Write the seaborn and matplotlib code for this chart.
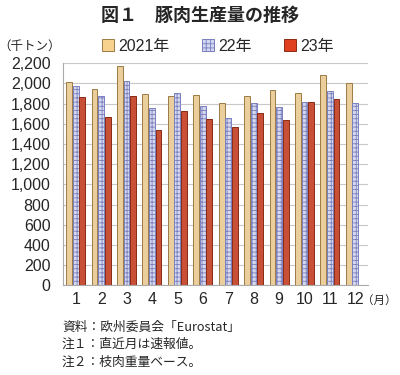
import matplotlib
matplotlib.use("Agg")
import matplotlib.pyplot as plt
import seaborn as sns
import pandas as pd
import numpy as np
from matplotlib.patches import Patch

months = [str(m) for m in range(1, 13)]
series_labels = ["2021年", "22年", "23年"]
v2021 = [2018, 1945, 2176, 1896, 1873, 1889, 1810, 1876, 1932, 1906, 2087, 2008]
v2022 = [1975, 1876, 2022, 1760, 1903, 1777, 1655, 1804, 1767, 1820, 1923, 1807]
v2023 = [1869, 1671, 1876, 1542, 1728, 1648, 1566, 1705, 1638, 1814, 1846, np.nan]
yticks = list(range(0, 2201, 200))

sns.set_theme(style="white")
plt.rcParams['font.family'] = ['Liberation Sans', 'Noto Sans CJK JP', 'DejaVu Sans']
plt.rcParams['hatch.linewidth'] = 0.6
CJK = ['Noto Sans CJK JP', 'DejaVu Sans']

rows = []
for lab, vals in zip(series_labels, [v2021, v2022, v2023]):
    for m, v in zip(months, vals):
        rows.append({"month": m, "series": lab, "value": v})
df = pd.DataFrame(rows)

face = ["#f7d28e", "#d2d6f0", "#e0401f"]
edge = ["#9c7a45", "#6b6fa8", "#8a2a14"]

fig = plt.figure(figsize=(4.0, 3.75), dpi=100)
ax = fig.add_axes([0.1575, 0.2387, 0.7625, 0.5925])
sns.barplot(data=df, x="month", y="value", hue="series", hue_order=series_labels,
            order=months, palette=face, width=0.78, gap=0.12, ax=ax, legend=False,
            linewidth=0.7)
for i, cont in enumerate(ax.containers):
    for p in cont.patches:
        p.set_edgecolor(edge[i])
        p.set_linewidth(0.7)
        if i == 1:
            p.set_hatch("++++")
            p.set_edgecolor("#7a7fc0")

ax.set_ylim(0, 2200)
ax.set_xlim(-0.5, 11.5)
ax.set_yticks(yticks)
ax.set_yticklabels([f"{t:,}" for t in yticks], fontsize=11.5)
ax.set_xticks(range(12))
ax.set_xticklabels(months, fontsize=11.5)
ax.set_xticks(np.arange(-0.5, 12, 1), minor=True)
ax.tick_params(axis="x", which="major", length=0, pad=5)
ax.tick_params(axis="x", which="minor", length=4, color="#999999", direction="out")
ax.tick_params(axis="y", length=0, pad=9)
ax.yaxis.grid(True, color="#c8c8c8", linewidth=0.8)
ax.set_axisbelow(True)
for s in ["top", "right"]:
    ax.spines[s].set_visible(False)
ax.spines["left"].set_color("#aaaaaa")
ax.spines["bottom"].set_color("#aaaaaa")
ax.spines["left"].set_linewidth(0.8)
ax.spines["bottom"].set_linewidth(0.8)
ax.set_xlabel("")
ax.set_ylabel("")

fig.text(0.5, 0.96, "図１　豚肉生産量の推移", ha="center", va="center",
         fontsize=13, fontweight="bold", family=CJK)
fig.text(0.075, 0.877, "（千トン）", ha="center", va="center", fontsize=9, family=CJK)
fig.text(0.992, 0.199, "（月）", ha="right", va="center", fontsize=8.3, family=CJK)

handles = [Patch(facecolor=face[0], edgecolor=edge[0], linewidth=0.7),
           Patch(facecolor=face[1], edgecolor="#7a7fc0", hatch="++++", linewidth=0.7),
           Patch(facecolor=face[2], edgecolor=edge[2], linewidth=0.7)]
fig.legend(handles, series_labels, loc="center", bbox_to_anchor=(0.545, 0.877),
           ncol=3, frameon=False, fontsize=11.5, handlelength=0.75, handleheight=0.75,
           handletextpad=0.3, columnspacing=2.0, borderaxespad=0)

notes = ["資料：欧州委員会「Eurostat」", "注１：直近月は速報値。", "注２：枝肉重量ベース。"]
for i, n in enumerate(notes):
    fig.text(0.155, 0.128 - i * 0.047, n, ha="left", va="center", fontsize=9.2,
             family=CJK)

fig.savefig("out.png", dpi=100)
